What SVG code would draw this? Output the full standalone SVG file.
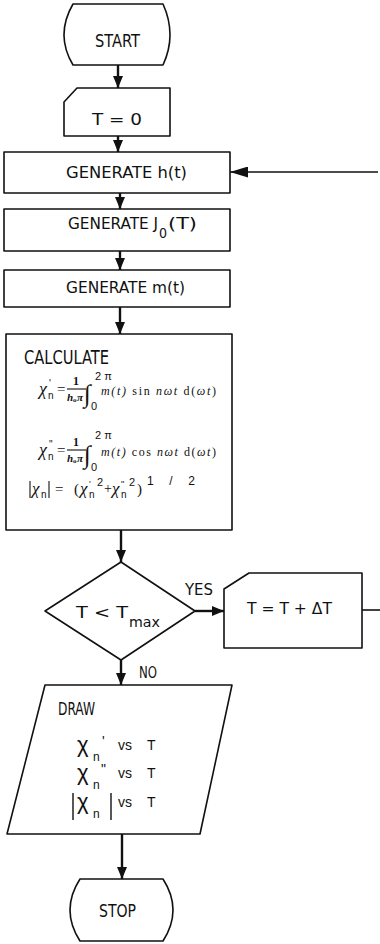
<svg xmlns="http://www.w3.org/2000/svg" width="380" height="944" viewBox="0 0 380 944">
<style>
.shape{fill:#fff;stroke:#111;stroke-width:1.6;stroke-linejoin:round}
.conn{fill:none;stroke:#111;stroke-width:2.4}
.thin{fill:none;stroke:#111;stroke-width:1.6}
.lbl{font-family:"Liberation Sans Narrow","DejaVu Sans Condensed","Liberation Sans",sans-serif;fill:#111}
.m{font-family:"Liberation Serif","DejaVu Serif",serif;fill:#111}
.mi{font-family:"Liberation Serif","DejaVu Serif",serif;font-style:italic;fill:#111}
.sx{font-family:"Liberation Sans","DejaVu Sans",sans-serif;fill:#111}
.bar{stroke:#111;stroke-width:1.1}
</style>
<defs>
<marker id="ah" viewBox="0 0 12 10" refX="12" refY="5" markerWidth="12" markerHeight="10" markerUnits="userSpaceOnUse" orient="auto">
<path d="M0,0 L12,5 L0,10 Z" fill="#111"/>
</marker>
<marker id="ahL" viewBox="0 0 18 11" refX="18" refY="5.5" markerWidth="18" markerHeight="11" markerUnits="userSpaceOnUse" orient="auto">
<path d="M0,0 L18,5.5 L0,11 Z" fill="#111"/>
</marker>
</defs>

<g id="connectors">
<line class="conn" x1="118" y1="65" x2="118" y2="88" marker-end="url(#ah)"/>
<line class="conn" x1="118" y1="136" x2="118" y2="152" marker-end="url(#ah)"/>
<line class="conn" x1="120" y1="193" x2="120" y2="209" marker-end="url(#ah)"/>
<line class="conn" x1="120" y1="251" x2="120" y2="270" marker-end="url(#ah)"/>
<line class="conn" x1="120" y1="307" x2="120" y2="334" marker-end="url(#ah)"/>
<line class="conn" x1="121" y1="530" x2="121" y2="562" marker-end="url(#ah)"/>
<line class="conn" x1="195" y1="611" x2="224" y2="611" marker-end="url(#ah)"/>
<line class="conn" x1="121" y1="660" x2="121" y2="685" marker-end="url(#ah)"/>
<line class="conn" x1="122" y1="834" x2="122" y2="879" marker-end="url(#ah)"/>
<line class="thin" x1="362" y1="610" x2="380" y2="610"/>
<line class="thin" x1="378" y1="172" x2="230" y2="172" marker-end="url(#ahL)"/>
<text class="lbl" x="185" y="595" font-size="15" textLength="28" lengthAdjust="spacingAndGlyphs">YES</text>
<text class="lbl" x="139" y="678" font-size="15" textLength="18" lengthAdjust="spacingAndGlyphs">NO</text>
</g>

<g id="start">
<path class="shape" d="M73,4 L163,4 Q177,35 163,65 L73,65 Q55,35 73,4 Z"/>
<text class="lbl" x="117.5" y="47" font-size="17" text-anchor="middle" textLength="45" lengthAdjust="spacingAndGlyphs">START</text>
</g>

<g id="init">
<path class="shape" d="M77,88 L170,88 L170,136 L64,136 L64,102 Z"/>
<text class="lbl" x="117" y="125" font-size="15" text-anchor="middle" textLength="50" lengthAdjust="spacingAndGlyphs">T = 0</text>
</g>

<g id="gen-h">
<rect class="shape" x="4" y="152" width="226" height="41"/>
<text class="lbl" x="66" y="178" font-size="15" textLength="121" lengthAdjust="spacingAndGlyphs">GENERATE h(t)</text>
</g>

<g id="gen-j">
<rect class="shape" x="4" y="209" width="226" height="42"/>
<text class="lbl" x="68" y="229" font-size="15" textLength="90" lengthAdjust="spacingAndGlyphs">GENERATE J</text>
<text class="lbl" x="159" y="238" font-size="14">0</text>
<text class="lbl" x="168" y="229" font-size="15" textLength="29" lengthAdjust="spacingAndGlyphs">(T)</text>
</g>

<g id="gen-m">
<rect class="shape" x="4" y="270" width="226" height="37"/>
<text class="lbl" x="66" y="293" font-size="15" textLength="119" lengthAdjust="spacingAndGlyphs">GENERATE m(t)</text>
</g>

<g id="calculate">
<rect class="shape" x="6" y="334" width="226" height="196"/>
<text class="lbl" x="24" y="364" font-size="19" textLength="85" lengthAdjust="spacingAndGlyphs">CALCULATE</text>
<!-- eq 1 -->
<text class="mi" x="39" y="395" font-size="18">χ</text>
<text class="sx" x="49" y="387" font-size="10">'</text>
<text class="sx" x="48" y="399" font-size="10">n</text>
<text class="m" x="57" y="394" font-size="15">=</text>
<text class="m" x="76" y="385" font-size="12" font-weight="bold" text-anchor="middle">1</text>
<line class="bar" x1="67" y1="389" x2="86" y2="389"/>
<text class="mi" x="67" y="401" font-size="11" font-weight="bold">h</text>
<text class="m" x="73" y="402" font-size="7" font-weight="bold">o</text>
<text class="mi" x="77" y="401" font-size="11" font-weight="bold">π</text>
<text class="m" x="84" y="402" font-size="25">∫</text>
<text class="sx" x="95" y="380" font-size="11">2 π</text>
<text class="sx" x="91" y="410" font-size="11">0</text>
<text class="mi" x="101" y="395" font-size="12" textLength="115" lengthAdjust="spacing">m(t) <tspan font-style="normal">sin</tspan> nωt <tspan font-style="normal">d(</tspan>ωt<tspan font-style="normal">)</tspan></text>
<!-- eq 2 -->
<text class="mi" x="39" y="456" font-size="18">χ</text>
<text class="sx" x="49" y="448" font-size="10">"</text>
<text class="sx" x="48" y="460" font-size="10">n</text>
<text class="m" x="57" y="455" font-size="15">=</text>
<text class="m" x="76" y="446" font-size="12" font-weight="bold" text-anchor="middle">1</text>
<line class="bar" x1="67" y1="450" x2="86" y2="450"/>
<text class="mi" x="67" y="462" font-size="11" font-weight="bold">h</text>
<text class="m" x="73" y="463" font-size="7" font-weight="bold">o</text>
<text class="mi" x="77" y="462" font-size="11" font-weight="bold">π</text>
<text class="m" x="84" y="463" font-size="25">∫</text>
<text class="sx" x="95" y="439" font-size="11">2 π</text>
<text class="sx" x="91" y="471" font-size="11">0</text>
<text class="mi" x="101" y="456" font-size="12" textLength="115" lengthAdjust="spacing">m(t) <tspan font-style="normal">cos</tspan> nωt <tspan font-style="normal">d(</tspan>ωt<tspan font-style="normal">)</tspan></text>
<!-- eq 3 -->
<line class="bar" x1="30" y1="481" x2="30" y2="498"/>
<text class="mi" x="32" y="494" font-size="17">χ</text>
<text class="sx" x="41" y="498" font-size="10">n</text>
<line class="bar" x1="49" y1="481" x2="49" y2="498"/>
<text class="m" x="55" y="494" font-size="15">=</text>
<text class="m" x="74" y="494" font-size="15">(</text>
<text class="mi" x="80" y="494" font-size="17">χ</text>
<text class="sx" x="89" y="487" font-size="9">'</text>
<text class="sx" x="89" y="498" font-size="10">n</text>
<text class="sx" x="97" y="486" font-size="11">2</text>
<text class="m" x="104" y="493" font-size="14">+</text>
<text class="mi" x="112" y="494" font-size="17">χ</text>
<text class="sx" x="121" y="487" font-size="9">"</text>
<text class="sx" x="121" y="498" font-size="10">n</text>
<text class="sx" x="129" y="486" font-size="11">2</text>
<text class="m" x="137" y="494" font-size="15">)</text>
<text class="sx" x="147" y="485" font-size="12" textLength="48" lengthAdjust="spacing">1 / 2</text>
</g>

<g id="decision">
<path class="shape" d="M121,562 L195,611 L121,660 L45,611 Z"/>
<text class="lbl" x="76" y="618" font-size="16" textLength="52" lengthAdjust="spacingAndGlyphs">T &lt; T</text>
<text class="lbl" x="129" y="627" font-size="14" textLength="31" lengthAdjust="spacingAndGlyphs">max</text>
</g>

<g id="increment">
<path class="shape" d="M249,573 L362,573 L362,648 L224,648 L224,589 Z"/>
<text class="lbl" x="247" y="614" font-size="15" textLength="85" lengthAdjust="spacingAndGlyphs">T = T + ΔT</text>
</g>

<g id="draw">
<path class="shape" d="M45,685 L232,685 L200,834 L7,834 Z"/>
<text class="lbl" x="58" y="715" font-size="17" textLength="37" lengthAdjust="spacingAndGlyphs">DRAW</text>
<text class="sx" x="77" y="752" font-size="22">χ</text>
<text class="sx" x="93" y="761" font-size="12">n</text>
<text class="sx" x="102" y="746" font-size="14">'</text>
<text class="sx" x="118" y="750" font-size="14">vs</text>
<text class="sx" x="147" y="750" font-size="14">T</text>
<text class="sx" x="77" y="780" font-size="22">χ</text>
<text class="sx" x="93" y="789" font-size="12">n</text>
<text class="sx" x="101" y="774" font-size="14">"</text>
<text class="sx" x="118" y="778" font-size="14">vs</text>
<text class="sx" x="147" y="778" font-size="14">T</text>
<line x1="73" y1="793" x2="73" y2="820" stroke="#111" stroke-width="1.4"/>
<text class="sx" x="77" y="809" font-size="22">χ</text>
<text class="sx" x="93" y="818" font-size="12">n</text>
<line x1="111" y1="793" x2="111" y2="820" stroke="#111" stroke-width="1.4"/>
<text class="sx" x="118" y="807" font-size="14">vs</text>
<text class="sx" x="147" y="807" font-size="14">T</text>
</g>

<g id="stop">
<path class="shape" d="M80,879 L163,879 Q183,910 163,941 L80,941 Q60,910 80,879 Z"/>
<text class="lbl" x="117.5" y="917" font-size="17" text-anchor="middle" textLength="37" lengthAdjust="spacingAndGlyphs">STOP</text>
</g>
</svg>
